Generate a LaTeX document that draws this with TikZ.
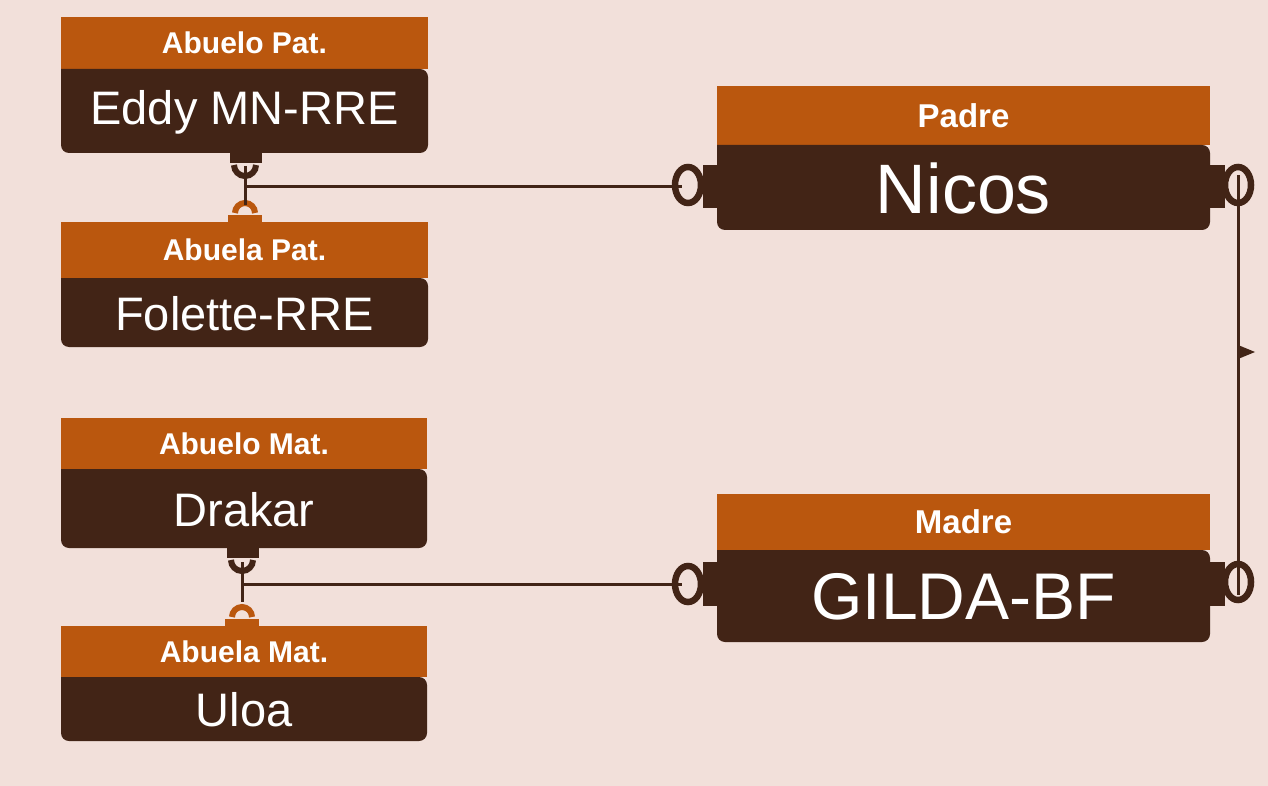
\documentclass[tikz,border=0pt]{standalone}
\usepackage{fontspec}
\setmainfont{Liberation Sans}
\definecolor{bg}{HTML}{F2E0DA}
\definecolor{org}{HTML}{BA570E}
\definecolor{drk}{HTML}{422416}
\begin{document}
\begin{tikzpicture}[x=1pt,y=-1pt,
  ln/.style={draw=drk,line width=3pt}]
\fill[bg] (0,0) rectangle (1268,786);
\useasboundingbox (0,0) rectangle (1268,786);
\newcommand\ent[9]{% name, x1, x2, yh, yb, ye, header, body, size
  \fill[org] (#2,#4) rectangle (#3,#5);
  \fill[drk,rounded corners=8pt] (#2,#5) -- (#2,#6) -- (#3,#6) -- (#3,#5) [sharp corners] -- cycle;
  \node[text=white,font=\bfseries\fontsize{\hs}{\hs}\selectfont] (#1h) at ({(#2+#3)/2},{(#4+#5)/2}) {#7};
  \node[text=white,font=\fontsize{#9}{#9}\selectfont] (#1) at ({(#2+#3)/2},{(#5+#6)/2+1}) {#8};
}
\def\hs{30}
\ent{ap}{61}{428}{17}{69}{153}{Abuelo Pat.}{Eddy MN-RRE}{47}
\ent{bp}{61}{428}{222}{278}{347}{Abuela Pat.}{Folette-RRE}{47}
\ent{am}{61}{427}{418}{469}{548}{Abuelo Mat.}{Drakar}{47}
\ent{bm}{61}{427}{626}{677}{741}{Abuela Mat.}{Uloa}{47}
\def\hs{33}
\ent{pa}{717}{1210}{86}{145}{230}{Padre}{Nicos}{70}
\ent{ma}{717}{1210}{494}{550}{642}{Madre}{GILDA-BF}{66}
\newcommand\pair[3]{% x, ytop, ybottom
  \fill[drk] (#1-15,#2) rectangle (#1+17,#2+10);
  \draw[drk,line width=6pt] (#1-11,#2+12) arc[start angle=180,end angle=0,radius=11];
  \fill[org] (#1-17,#3-7) rectangle (#1+17,#3);
  \draw[org,line width=6pt] (#1+10,#3-9) arc[start angle=0,end angle=-180,radius=10];
}
\pair{245}{153}{222}
\pair{242}{548}{626}
\coordinate (j1) at (245,187);
\coordinate (j2) at (242,584);
\draw[ln] (245,166) -- (245,205);
\draw[ln] (242,562) -- (242,602);
\draw[ln] (j1) -- (682,187);
\draw[ln] (j2) -- (682,584);
\newcommand\ring[2]{\draw[drk,line width=6.5pt] (#1,#2) ellipse[x radius=13,y radius=18];}
\fill[drk] (703,165) rectangle (717,208);
\fill[drk] (703,562) rectangle (717,606);
\fill[drk] (1210,165) rectangle (1225,208);
\fill[drk] (1210,562) rectangle (1225,606);
\ring{688}{185}\ring{688}{584}\ring{1238}{185}\ring{1238}{582}
\draw[ln] (1238,175) -- (1238,595);
\fill[drk] (1238,345) -- (1255,352) -- (1238,359) -- cycle;
\end{tikzpicture}
\end{document}
